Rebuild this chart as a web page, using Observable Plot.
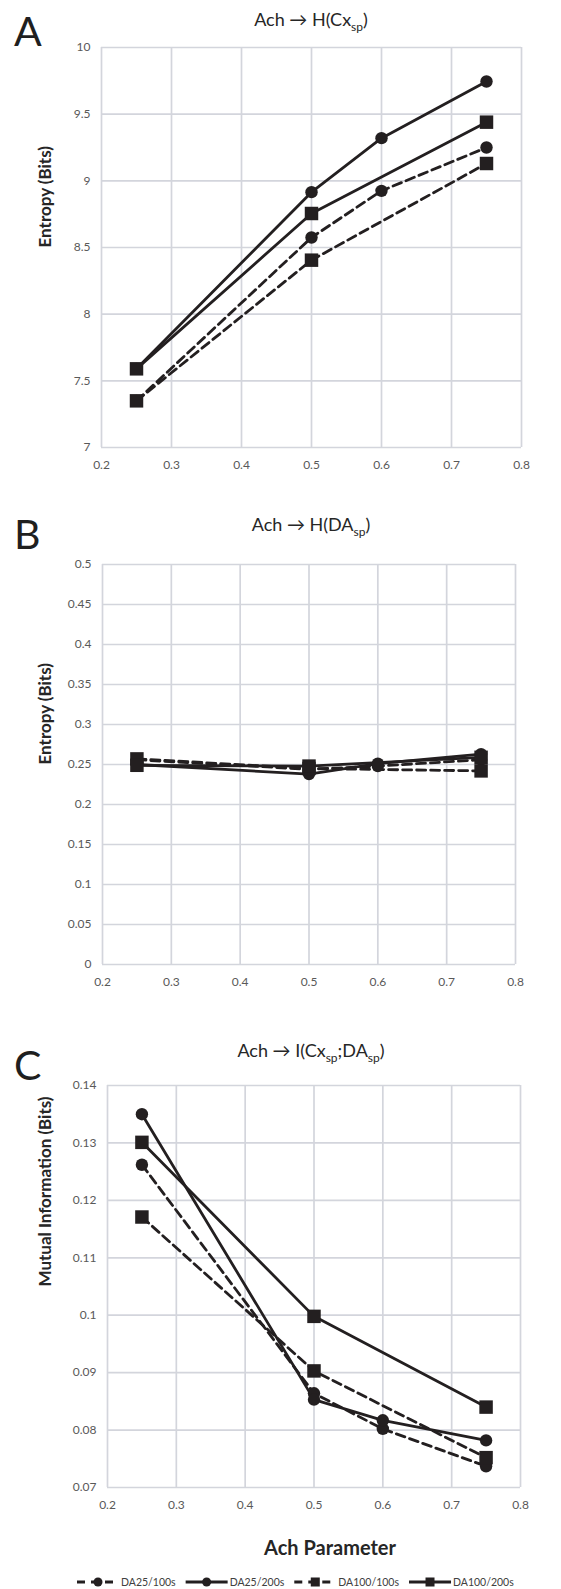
<!DOCTYPE html>
<html>
<head>
<meta charset="utf-8">
<script src="https://cdn.jsdelivr.net/npm/d3@7"></script>
<script src="https://cdn.jsdelivr.net/npm/@observablehq/plot@0.6"></script>
<style>
  html, body { margin: 0; padding: 0; background: #fff; }
  #page { position: relative; width: 561px; height: 1589px; overflow: hidden; font-family: Lato, "Open Sans", sans-serif; }
  #page > svg.plot { position: absolute; left: 0; overflow: visible; }
</style>
</head>
<body>
<div id="page"></div>
<script>
// ---------------- data ----------------
const achParam = [0.25, 0.5, 0.6, 0.75];
const seriesNames = ["DA25/100s", "DA25/200s", "DA100/100s", "DA100/200s"];

// Panel A: Ach -> H(Cx_sp)
const hCx_DA25_100  = [7.35, 8.575, 8.925, 9.25];
const hCx_DA25_200  = [7.59, 8.915, 9.32, 9.745];
const hCx_DA100_100 = [7.35, 8.405, null, 9.13];
const hCx_DA100_200 = [7.59, 8.755, null, 9.44];

// Panel B: Ach -> H(DA_sp)
const hDA_DA25_100  = [0.256, 0.244, 0.248, 0.256];
const hDA_DA25_200  = [0.250, 0.238, 0.251, 0.263];
const hDA_DA100_100 = [0.257, 0.245, null, 0.242];
const hDA_DA100_200 = [0.249, 0.248, null, 0.259];

// Panel C: Ach -> I(Cx_sp;DA_sp)
const mi_DA25_100  = [0.1262, 0.0864, 0.0802, 0.0737];
const mi_DA25_200  = [0.1350, 0.0853, 0.0817, 0.0782];
const mi_DA100_100 = [0.1171, 0.0903, null, 0.0752];
const mi_DA100_200 = [0.1301, 0.0998, null, 0.0840];

const xTicks  = [0.2, 0.3, 0.4, 0.5, 0.6, 0.7, 0.8];
const yTicksA = [7, 7.5, 8, 8.5, 9, 9.5, 10];
const yTicksB = [0, 0.05, 0.1, 0.15, 0.2, 0.25, 0.3, 0.35, 0.4, 0.45, 0.5];
const yTicksC = [0.07, 0.08, 0.09, 0.1, 0.11, 0.12, 0.13, 0.14];

// ---------------- styles ----------------
const INK = "#231f20";
const GRID = "#d3d5dc";
const TICK = "#595959";
const seriesStyle = [
  {dash: "9,5", symbol: "circle"},
  {dash: null,  symbol: "circle"},
  {dash: "9,5", symbol: "square"},
  {dash: null,  symbol: "square"}
];

const page = document.getElementById("page");

function panel({values, yDomain, yTicks, yLabel, top, height, mt, mb, ml, mr}) {
  const marks = [
    Plot.gridX({ticks: xTicks, stroke: GRID, strokeOpacity: 1, strokeWidth: 1.7}),
    Plot.gridY({ticks: yTicks, stroke: GRID, strokeOpacity: 1, strokeWidth: 1.7}),
    Plot.axisX({ticks: xTicks, tickSize: 0, tickPadding: 13, label: null, fontSize: 12, tickFormat: d => String(d)}),
    Plot.axisY({ticks: yTicks, tickSize: 0, tickPadding: 11, label: null, fontSize: 12, tickFormat: d => String(d)})
  ];
  const seriesData = values.map((vals, i) =>
    achParam.map((x, j) => ({x, y: vals[j], series: seriesNames[i]})).filter(d => d.y != null));
  seriesData.forEach((pts, i) => {
    marks.push(Plot.line(pts, {x: "x", y: "y", stroke: INK, strokeWidth: 2.8,
      strokeDasharray: seriesStyle[i].dash || undefined}));
  });
  seriesData.forEach((pts, i) => {
    const sq = seriesStyle[i].symbol === "square";
    marks.push(Plot.dot(pts, {x: "x", y: "y", symbol: seriesStyle[i].symbol,
      r: sq ? 7.6 : 6.2, fill: INK, stroke: "none"}));
  });
  marks.push(Plot.text([yLabel], {text: d => d, frameAnchor: "left", dx: 45 - ml, rotate: -90,
    fontSize: 17, fontWeight: "bold", fill: "#262626"}));
  const svg = Plot.plot({
    width: 561, height,
    marginTop: mt, marginBottom: mb, marginLeft: ml, marginRight: mr,
    x: {domain: [0.2, 0.8], label: null},
    y: {domain: yDomain, label: null},
    style: {fontFamily: "Lato, 'Open Sans', sans-serif", fontSize: "12px", color: TICK, background: "transparent", overflow: "visible"},
    marks
  });
  svg.classList.add("plot");
  svg.style.top = top + "px";
  page.appendChild(svg);
}

panel({values: [hCx_DA25_100, hCx_DA25_200, hCx_DA100_100, hCx_DA100_200],
  yDomain: [7, 10], yTicks: yTicksA, yLabel: "Entropy (Bits)",
  top: 0, height: 480, mt: 47, mb: 33, ml: 101, mr: 40});
panel({values: [hDA_DA25_100, hDA_DA25_200, hDA_DA100_100, hDA_DA100_200],
  yDomain: [0, 0.5], yTicks: yTicksB, yLabel: "Entropy (Bits)",
  top: 517, height: 480, mt: 47, mb: 33, ml: 102, mr: 46});
panel({values: [mi_DA25_100, mi_DA25_200, mi_DA100_100, mi_DA100_200],
  yDomain: [0.07, 0.14], yTicks: yTicksC, yLabel: "Mutual Information (Bits)",
  top: 1038, height: 480, mt: 47, mb: 31, ml: 107, mr: 41});

// ---------------- overlay text: letters, titles, x label, legend ----------------
const ov = d3.select(page).append("svg")
  .attr("width", 561).attr("height", 1589)
  .style("position", "absolute").style("left", 0).style("top", 0)
  .style("pointer-events", "none")
  .style("font-family", "Lato, 'Open Sans', sans-serif");

const letters = [["A", 46], ["B", 549], ["C", 1080]];
letters.forEach(([t, y]) => ov.append("text").attr("x", 14).attr("y", y)
  .attr("font-size", 41).attr("fill", "#1f1f1f").text(t));

function title(y, parts) {
  const t = ov.append("text").attr("x", 311).attr("y", y).attr("text-anchor", "middle")
    .attr("font-size", 18).attr("fill", "#262626");
  let down = false;
  parts.forEach(([s, sub]) => {
    const ts = t.append("tspan").text(s);
    if (sub) { ts.attr("font-size", 12).attr("dy", 5); down = true; }
    else if (down) { ts.attr("dy", -5); down = false; }
  });
}
title(26, [["Ach \u2192 H(Cx"], ["sp", true], [")"]]);
title(531, [["Ach \u2192 H(DA"], ["sp", true], [")"]]);
title(1057, [["Ach \u2192 I(Cx"], ["sp", true], [";DA"], ["sp", true], [")"]]);

ov.append("text").attr("x", 330).attr("y", 1555).attr("text-anchor", "middle")
  .attr("font-size", 20).attr("font-weight", "bold").attr("fill", "#262626").text("Ach Parameter");

// legend
const lg = ov.append("g");
let lx = 77;
const ly = 1582;
seriesNames.forEach((name, i) => {
  const st = seriesStyle[i];
  lg.append("line").attr("x1", lx).attr("x2", lx + 42).attr("y1", ly).attr("y2", ly)
    .attr("stroke", INK).attr("stroke-width", 2.8)
    .attr("stroke-dasharray", st.dash ? "8,6" : null);
  if (st.symbol === "circle") {
    lg.append("circle").attr("cx", lx + 21).attr("cy", ly).attr("r", 4.5).attr("fill", INK);
  } else {
    lg.append("rect").attr("x", lx + 21 - 4.5).attr("y", ly - 4.5).attr("width", 9).attr("height", 9).attr("fill", INK);
  }
  const tx = lg.append("text").attr("x", lx + 44).attr("y", ly).attr("dy", "0.35em")
    .attr("font-size", 10.5).attr("fill", "#404040").text(name);
  const w = tx.node().getComputedTextLength();
  lx += 44 + w + 10;
});
</script>
</body>
</html>
